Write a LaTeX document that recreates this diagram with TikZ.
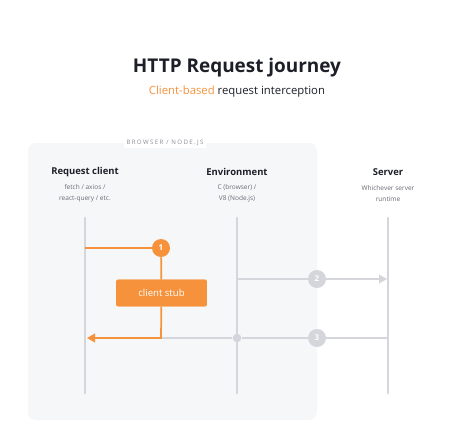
\documentclass[tikz,border=0pt]{standalone}
\usepackage{fontspec}
\setmainfont{Open Sans}
\usetikzlibrary{arrows.meta}
\definecolor{stuborange}{RGB}{246,146,60}
\definecolor{linegray}{RGB}{213,214,219}
\definecolor{boxgray}{RGB}{246,247,249}
\definecolor{titleink}{RGB}{28,31,40}
\definecolor{noteink}{RGB}{105,108,116}
\definecolor{tagink}{RGB}{140,143,150}

\tikzset{
  header/.style={font=\fontsize{7.1}{9}\selectfont\bfseries, text=titleink, inner sep=0.75pt},
  note/.style={font=\fontsize{4.9}{8.2}\selectfont, text=noteink, align=center, inner sep=0.75pt},
  lifeline/.style={draw=linegray, line width=2.2pt, line cap=round},
  msg/.style={draw=linegray, line width=1.1pt},
  stubline/.style={draw=stuborange, line width=1.3pt},
  stepdot/.style={circle, minimum size=13.5pt, inner sep=0pt, text=white,
    font=\fontsize{6}{6}\selectfont\bfseries},
  stubbox/.style={fill=stuborange, rounded corners=1.5pt, minimum width=68pt,
    minimum height=20pt, text=white, font=\fontsize{7.2}{8}\selectfont}
}

\begin{document}
\begin{tikzpicture}[x=0.75pt,y=0.75pt,yscale=-1]
\useasboundingbox (0,0) rectangle (474,447);
\fill[white] (0,0) rectangle (474,447);

% Browser / Node.js box
\fill[boxgray, rounded corners=6pt] (28,143) rectangle (317,420);
\node[fill=white, inner sep=2pt, text=tagink, font=\fontsize{4.6}{5}\selectfont\addfontfeatures{LetterSpace=22}] (tag) at (165,143) {BROWSER / NODE.JS};

% Text Node
\node[font=\fontsize{14.2}{17}\selectfont\bfseries, text=titleink] (title) at (237,68) {HTTP Request journey};
\node[font=\fontsize{8.5}{10}\selectfont, text=titleink] (subtitle) at (237,92) {{\color{stuborange}Client-based} request interception};

% Headers
\node[header] (client) at (85,172) {Request client};
\node[header] (env) at (237,172) {Environment};
\node[header] (server) at (388,172) {Server};
\node[note] (client note) at (85,193.5) {fetch / axios /\\react-query / etc.};
\node[note] (env note) at (237,193.5) {C (browser) /\\V8 (Node.js)};
\node[note] (server note) at (388,193.5) {Whichever server\\runtime};

% Lifelines
\coordinate (client top) at (85,218);
\coordinate (client bottom) at (85,393);
\coordinate (env top) at (237,218);
\coordinate (env bottom) at (237,393);
\coordinate (server top) at (388,218);
\coordinate (server bottom) at (388,393);
\draw[lifeline] (client top) -- (client bottom);
\draw[lifeline] (env top) -- (env bottom);
\draw[lifeline] (server top) -- (server bottom);

% Steps
\node[stepdot, fill=stuborange] (s1) at (161,248) {1};
\node[stepdot, fill=linegray] (s2) at (317,279) {2};
\node[stepdot, fill=linegray] (s3) at (317,338) {3};
\node[stubbox] (stub) at (161.5,293) {client stub};
\node[circle, fill=linegray, minimum size=6.5pt, inner sep=0pt] (env dot) at (237,338) {};
\coordinate (env out) at (237,279);
\coordinate (server in) at (387,279);
\coordinate (server out) at (388,338);
\coordinate (turn) at (161,338);
\coordinate (client in) at (87,338);

%Straight Lines
\draw[msg] (env out) -- (s2);
\draw[msg, -{Triangle[length=6pt,width=6.5pt]}] (s2) -- (server in);
\draw[msg] (server out) -- (s3) -- (env dot) -- (turn);
\draw[stubline] (client top |- s1) -- (s1);
\draw[stubline] (s1) -- (stub);
\draw[stubline, -{Triangle[length=6pt,width=6.5pt]}] (stub) -- (turn) -- (client in);
\node[stubbox] at (stub) {client stub};

\end{tikzpicture}
\end{document}
